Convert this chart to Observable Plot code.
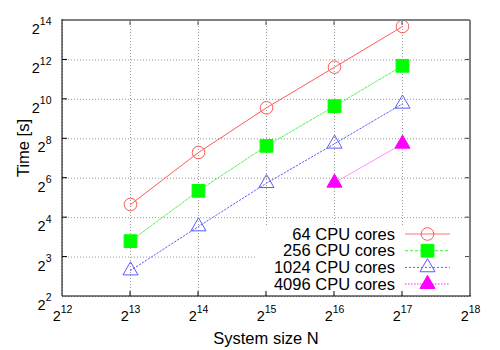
<!DOCTYPE html>
<html><head><meta charset="utf-8">
<script src="https://cdn.jsdelivr.net/npm/d3@7"></script>
<script src="https://cdn.jsdelivr.net/npm/@observablehq/plot@0.6"></script>
<style>
body{margin:0;background:#fff}
svg{font-family:"Liberation Sans",Arial,Helvetica,sans-serif}
</style>
</head><body><div id="chart"></div>
<script>
// ---- data ----
const systemSizes = [8192, 16384, 32768, 65536, 131072];
const seriesNames = ["64 CPU cores", "256 CPU cores", "1024 CPU cores", "4096 CPU cores"];
const time64   = [64, 307, 1180, 4010, 13680];
const time256  = [21.2, 96.7, 375, 1238, 4182];
const time1024 = [8.75, 33.0, 121.6, 399, 1331];
const time4096 = [null, null, null, 123.1, 399];
const xTickExps = [12, 13, 14, 15, 16, 17, 18];
const yTickLabels = ["2", "3", "4", "6", "8", "10", "12", "14"];

// ---- styles ----
const styles = [
  {line: "#ff5a5a", dash: null, width: 1, sym: "circle", fill: "none", stroke: "#ff5a5a", r: 6.3},
  {line: "#5af05a", dash: "2.5,1.5", width: 1, sym: "square", fill: "#00ff00", stroke: "#00ff00", r: 7.2},
  {line: "#5a5aff", dash: "1.5,2", width: 1, sym: "triangle", fill: "none", stroke: "#5a5aff", r: 5.6},
  {line: "#ff90ff", dash: null, width: 1, sym: "triangle", fill: "#ff00ff", stroke: "#ff00ff", r: 5.6}
];
const allTimes = [time64, time256, time1024, time4096];
const rows = [];
allTimes.forEach((arr, s) => arr.forEach((t, i) => {
  if (t != null) rows.push({series: seriesNames[s], s, N: systemSizes[i], t});
}));

const xTickVals = xTickExps.map(e => 2 ** e);
const yLo = 2 ** +yTickLabels[0], yHi = 2 ** +yTickLabels[yTickLabels.length - 1];
const nY = yTickLabels.length - 1;
const yTickVals = yTickLabels.map((_, i) => 2 ** (Math.log2(yLo) + (Math.log2(yHi) - Math.log2(yLo)) * i / nY));
const yIdx = d => Math.round((Math.log2(d) - Math.log2(yLo)) * nY / (Math.log2(yHi) - Math.log2(yLo)));

const marks = [
  Plot.gridX(xTickVals, {stroke: "#9a9a9a", strokeOpacity: 1, strokeDasharray: "1,2", strokeWidth: 1}),
  Plot.gridY(yTickVals, {stroke: "#9a9a9a", strokeOpacity: 1, strokeDasharray: "1,2", strokeWidth: 1}),
  Plot.text(xTickVals, {x: d => d, frameAnchor: "bottom", fontSize: 14.5, fill: "#000",
    text: d => "2^" + Math.round(Math.log2(d))}),
  Plot.text(yTickVals, {y: d => d, frameAnchor: "left", textAnchor: "end", dx: -11, fontSize: 14.5, fill: "#000",
    text: d => "2^" + yTickLabels[yIdx(d)]})
];
styles.forEach((st, s) => {
  const data = rows.filter(r => r.s === s);
  marks.push(Plot.line(data, {x: "N", y: "t", stroke: st.line, strokeWidth: st.width, strokeDasharray: st.dash}));
});
styles.forEach((st, s) => {
  const data = rows.filter(r => r.s === s);
  marks.push(Plot.dot(data, {x: "N", y: "t", symbol: st.sym, r: st.r, fill: st.fill, stroke: st.stroke, strokeWidth: 1}));
});

const plot = Plot.plot({
  width: 500, height: 350,
  marginLeft: 62, marginRight: 30, marginTop: 20, marginBottom: 54,
  style: {background: "#fff", color: "#000", fontFamily: '"Liberation Sans",Arial,sans-serif', fontSize: "14.5px"},
  x: {type: "log", base: 2, domain: [2 ** xTickExps[0], 2 ** xTickExps[xTickExps.length - 1]], axis: null},
  y: {type: "log", base: 2, domain: [yLo, yHi], axis: null},
  marks
});
document.getElementById("chart").appendChild(plot);

// ---- superscript tick labels ----
const svg = d3.select(plot);
function supify(sel, dyBase) {
  sel.each(function() {
    const txt = this.textContent;
    if (txt.indexOf("^") < 0) return;
    const [b, e] = txt.split("^");
    const t = d3.select(this);
    t.text(null).attr("dy", dyBase).style("font-size", "14.5px");
    t.append("tspan").style("font-size", "14.5px").text(b);
    t.append("tspan").attr("dy", -8.5).style("font-size", "10.5px").text(e);
  });
}
const textGroups = svg.selectAll('g[aria-label="text"]').nodes();
supify(d3.select(textGroups[0]).selectAll("text"), 24.7);
supify(d3.select(textGroups[1]).selectAll("text"), 8.8);

// ---- frame & inward ticks ----
const sx = plot.scale("x"), sy = plot.scale("y");
const x0 = sx.apply(xTickVals[0]), x1 = sx.apply(xTickVals[xTickVals.length - 1]);
const y0 = sy.apply(yLo), y1 = sy.apply(yHi);
const deco = svg.append("g");
const tick = 5;
xTickVals.slice(1, -1).forEach(v => {
  const x = sx.apply(v);
  deco.append("line").attr("x1", x).attr("x2", x).attr("y1", y0).attr("y2", y0 - tick).attr("stroke", "#000");
  deco.append("line").attr("x1", x).attr("x2", x).attr("y1", y1).attr("y2", y1 + tick).attr("stroke", "#444");
});
yTickVals.slice(1, -1).forEach(v => {
  const y = sy.apply(v);
  deco.append("line").attr("x1", x0).attr("x2", x0 + tick).attr("y1", y).attr("y2", y).attr("stroke", "#000");
  deco.append("line").attr("x1", x1).attr("x2", x1 - tick).attr("y1", y).attr("y2", y).attr("stroke", "#444");
});

// ---- legend (inside, bottom right) ----
const leg = svg.append("g");
leg.append("rect").attr("x", 255).attr("y", 225).attr("width", x1 - 1.5 - 255).attr("height", y0 - 0.5 - 225).attr("fill", "#fff");
const legDash = [null, "3,2", "2,2", "1.5,1.5"];
const legW = [1.5, 1, 1, 2];
const legLine = ["#ffa0a0", "#40f040", "#6060ff", "#ff90ff"];
seriesNames.forEach((name, i) => {
  const cy = 234 + i * 16.7;
  leg.append("text").attr("x", 395).attr("y", cy + 5.5).attr("text-anchor", "end")
    .style("font-size", "16.5px").attr("fill", "#000").text(name);
  leg.append("line").attr("x1", 405).attr("x2", 450).attr("y1", cy).attr("y2", cy)
    .attr("stroke", legLine[i]).attr("stroke-width", legW[i]).attr("stroke-dasharray", legDash[i]);
  const st = styles[i];
  const symType = st.sym === "circle" ? d3.symbolCircle : st.sym === "square" ? d3.symbolSquare : d3.symbolTriangle;
  leg.append("path").attr("transform", `translate(427.5,${cy})`)
    .attr("d", d3.symbol(symType, Math.PI * st.r * st.r)())
    .attr("fill", st.fill).attr("stroke", st.stroke);
});

// frame
deco.raise();
const fr = svg.append("g");
fr.append("line").attr("x1", x0).attr("x2", x1).attr("y1", y1).attr("y2", y1).attr("stroke", "#808080").attr("stroke-width", 2);
fr.append("line").attr("x1", x1).attr("x2", x1).attr("y1", y1).attr("y2", y0).attr("stroke", "#808080").attr("stroke-width", 2);
fr.append("line").attr("x1", x0).attr("x2", x0).attr("y1", y1 - 1).attr("y2", y0).attr("stroke", "#000");
fr.append("line").attr("x1", x0).attr("x2", x1 + 1).attr("y1", y0).attr("y2", y0).attr("stroke", "#000");

// axis titles
svg.append("text").attr("x", (x0 + x1) / 2).attr("y", 344).attr("text-anchor", "middle")
  .style("font-size", "16.5px").attr("fill", "#000").text("System size N");
svg.append("text").attr("transform", `translate(29,${(y0 + y1) / 2 - 10}) rotate(-90)`).attr("text-anchor", "middle")
  .style("font-size", "16.5px").attr("fill", "#000").text("Time [s]");
</script>
</body></html>
